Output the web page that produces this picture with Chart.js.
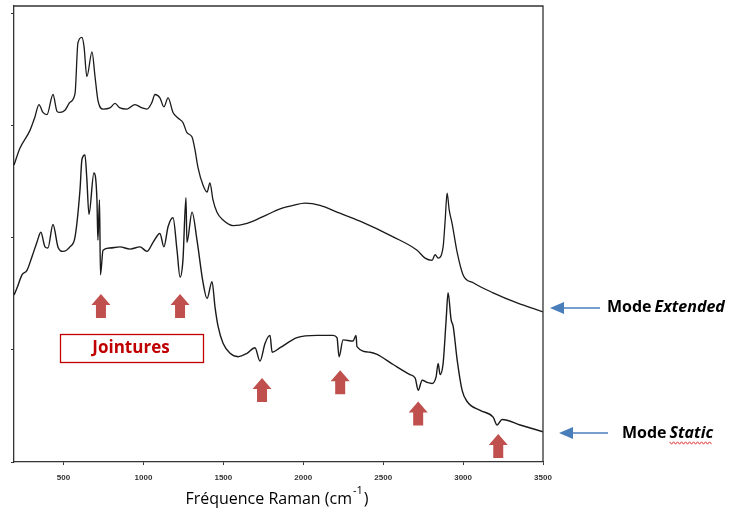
<!DOCTYPE html>
<html lang="fr">
<head>
<meta charset="utf-8">
<title>Spectre Raman - modes Extended / Static</title>
<script src="https://cdn.jsdelivr.net/npm/chart.js@4.4.1/dist/chart.umd.min.js"></script>
<style>
  html, body { margin: 0; padding: 0; background: #fff; }
</style>
</head>
<body>
<canvas id="grafico" width="736" height="514"></canvas>
<script>
// Courbe du haut : mode Extended (nombre d'onde en cm-1, intensité relative)
const extendedCm = [190, 227, 290, 321, 346, 371, 396, 434, 459, 477, 509, 540, 572, 590, 615, 628, 646,
  678, 697, 715, 747, 790, 822, 853, 897, 947, 991, 1022, 1053, 1072, 1103, 1128, 1154, 1185, 1216,
  1247, 1272, 1304, 1322, 1341, 1373, 1398, 1416, 1435, 1460, 1498, 1561, 1648, 1748, 1855, 1936,
  2011, 2105, 2211, 2355, 2562, 2712, 2762, 2806, 2825, 2844, 2875, 2888, 2900, 2913, 2931, 2963,
  3000, 3063, 3188, 3338, 3500];
const extendedInt = [2.65, 2.80, 2.96, 3.08, 3.19, 3.12, 3.10, 3.28, 3.13, 3.12, 3.14, 3.21, 3.29, 3.74, 3.79, 3.71, 3.44,
  3.66, 3.44, 3.23, 3.15, 3.16, 3.20, 3.16, 3.15, 3.19, 3.16, 3.15, 3.21, 3.28, 3.25, 3.17, 3.25, 3.12, 3.07,
  3.03, 2.94, 2.90, 2.79, 2.63, 2.47, 2.41, 2.49, 2.34, 2.23, 2.16, 2.11, 2.13, 2.19, 2.26, 2.29,
  2.31, 2.29, 2.23, 2.15, 2.01, 1.89, 1.82, 1.80, 1.85, 1.82, 1.92, 2.16, 2.40, 2.25, 2.13, 1.87,
  1.67, 1.60, 1.51, 1.42, 1.34];

// Courbe du bas : mode Static
const staticCm = [190, 208, 240, 271, 302, 333, 358, 384, 402, 434, 465, 496, 540, 572, 603, 615, 634, 646,
  659, 690, 709, 715, 725, 731, 747, 790, 853, 916, 978, 1022, 1060, 1103, 1128, 1154, 1185, 1210, 1229,
  1247, 1266, 1272, 1304, 1335, 1373, 1398, 1429, 1448, 1467, 1498, 1542, 1592, 1648, 1698, 1729, 1761,
  1792, 1805, 1855, 1961, 2086, 2186, 2211, 2224, 2249, 2311, 2330, 2336, 2418, 2462, 2562, 2668, 2700,
  2719, 2744, 2775, 2806, 2831, 2844, 2856, 2875, 2894, 2906, 2925, 2938, 2963, 2994, 3025, 3107, 3188,
  3213, 3244, 3357, 3500];
const staticInt = [1.49, 1.55, 1.67, 1.71, 1.83, 1.96, 2.05, 1.92, 1.91, 2.12, 1.92, 1.88, 1.92, 2.01, 2.43, 2.70, 2.74, 2.52,
  2.21, 2.58, 2.34, 1.98, 2.34, 1.67, 1.89, 1.91, 1.92, 1.90, 1.92, 1.88, 1.96, 2.04, 1.92, 2.10, 2.18, 1.89, 1.65,
  1.80, 2.36, 1.96, 2.23, 1.98, 1.60, 1.46, 1.61, 1.38, 1.21, 1.06, 0.97, 0.94, 0.97, 1.02, 0.90, 1.06,
  1.13, 0.98, 1.02, 1.11, 1.13, 1.13, 1.11, 0.94, 1.09, 1.08, 1.13, 1.03, 0.98, 0.96, 0.87, 0.78, 0.75,
  0.64, 0.73, 0.71, 0.70, 0.76, 0.88, 0.78, 0.88, 1.27, 1.51, 1.27, 1.21, 0.91, 0.64, 0.54, 0.46, 0.40,
  0.33, 0.38, 0.33, 0.27];

// Graduations
const xTicks = [500, 1000, 1500, 2000, 2500, 3000, 3500];
const yTicks = [0, 1, 2, 3, 4];

// Flèches rouges (jointures) : position en cm-1 et haut de la flèche
const jointuresCm = [734, 1229, 1742, 2231, 2719, 3220];
const jointuresTop = [1.50, 1.50, 0.75, 0.82, 0.54, 0.25];

const rouge = '#C0504D';
const bleu = '#4A7EBB';

function paires(xs, ys) {
  return xs.map((x, i) => ({ x: x, y: ys[i] }));
}

// Flèche rouge vers le haut
function flecheHaut(ctx, cx, top) {
  ctx.fillStyle = rouge;
  ctx.beginPath();
  ctx.moveTo(cx, top);
  ctx.lineTo(cx + 9.5, top + 11);
  ctx.lineTo(cx + 5, top + 11);
  ctx.lineTo(cx + 5, top + 24);
  ctx.lineTo(cx - 5, top + 24);
  ctx.lineTo(cx - 5, top + 11);
  ctx.lineTo(cx - 9.5, top + 11);
  ctx.closePath();
  ctx.fill();
}

// Flèche bleue vers la gauche
function flecheGauche(ctx, tipX, tailX, y) {
  ctx.strokeStyle = bleu;
  ctx.lineWidth = 1.5;
  ctx.beginPath();
  ctx.moveTo(tailX, y);
  ctx.lineTo(tipX + 10, y);
  ctx.stroke();
  ctx.fillStyle = bleu;
  ctx.beginPath();
  ctx.moveTo(tipX, y);
  ctx.lineTo(tipX + 14, y - 6);
  ctx.lineTo(tipX + 14, y + 6);
  ctx.closePath();
  ctx.fill();
}

// "Mode" en gras + mot en gras italique, renvoie la position du mot
function etiquette(ctx, x, y, mot) {
  ctx.fillStyle = '#000';
  ctx.textBaseline = 'middle';
  ctx.textAlign = 'left';
  ctx.font = 'bold 16px "Open Sans"';
  ctx.fillText('Mode', x, y);
  const x2 = x + ctx.measureText('Mode').width + 3;
  ctx.font = 'italic bold 16px "Open Sans"';
  ctx.fillText(mot, x2, y);
  return { x: x2, w: ctx.measureText(mot).width };
}

const annotations = {
  id: 'annotations',
  afterDraw(chart) {
    const ctx = chart.ctx;
    const a = chart.chartArea;
    const sx = chart.scales.x;
    const sy = chart.scales.y;
    ctx.save();

    // cadre haut et droite
    ctx.strokeStyle = '#333';
    ctx.lineWidth = 1.3;
    ctx.beginPath();
    ctx.moveTo(a.left, a.top);
    ctx.lineTo(a.right, a.top);
    ctx.lineTo(a.right, a.bottom);
    ctx.stroke();

    // flèches des jointures
    jointuresCm.forEach((cm, i) => {
      flecheHaut(ctx, sx.getPixelForValue(cm), sy.getPixelForValue(jointuresTop[i]));
    });

    // encadré "Jointures"
    ctx.strokeStyle = '#C00000';
    ctx.lineWidth = 1.3;
    ctx.strokeRect(60.5, 334.5, 143, 28);
    ctx.fillStyle = '#C00000';
    ctx.font = 'bold 17px "Open Sans"';
    ctx.textAlign = 'center';
    ctx.textBaseline = 'middle';
    ctx.fillText('Jointures', 131, 348);

    // étiquettes à droite
    flecheGauche(ctx, a.right + 7, a.right + 57, 308);
    etiquette(ctx, 607, 307, 'Extended');
    flecheGauche(ctx, a.right + 16, a.right + 65, 433);
    const s = etiquette(ctx, 622, 433, 'Static');

    // soulignement ondulé sous "Static"
    ctx.strokeStyle = '#E03030';
    ctx.lineWidth = 1;
    ctx.beginPath();
    for (let x = s.x; x <= s.x + s.w; x += 2) {
      const yy = 443 + ((Math.round((x - s.x) / 2) % 2) ? 1.2 : -1.2);
      if (x === s.x) ctx.moveTo(x, yy); else ctx.lineTo(x, yy);
    }
    ctx.stroke();

    // titre de l'axe x avec exposant
    ctx.fillStyle = '#000';
    ctx.textAlign = 'left';
    ctx.textBaseline = 'alphabetic';
    ctx.font = '16px "Open Sans"';
    const t1 = 'Fréquence Raman (cm';
    const w1 = ctx.measureText(t1).width;
    ctx.font = '11px "Open Sans"';
    const w2 = ctx.measureText('-1').width;
    ctx.font = '16px "Open Sans"';
    const w3 = ctx.measureText(')').width;
    let x0 = 277 - (w1 + w2 + 2 + w3) / 2;
    ctx.fillText(t1, x0, 504);
    ctx.font = '11px "Open Sans"';
    ctx.fillText('-1', x0 + w1 + 1, 494);
    ctx.font = '16px "Open Sans"';
    ctx.fillText(')', x0 + w1 + w2 + 2, 504);

    ctx.restore();
  }
};

const ctx = document.getElementById('grafico').getContext('2d');

new Chart(ctx, {
  type: 'line',
  data: {
    datasets: [{
      label: 'Mode Extended',
      data: paires(extendedCm, extendedInt),
      borderColor: '#1a1a1a',
      borderWidth: 1.3,
      pointRadius: 0,
      cubicInterpolationMode: 'monotone',
      fill: false
    }, {
      label: 'Mode Static',
      data: paires(staticCm, staticInt),
      borderColor: '#1a1a1a',
      borderWidth: 1.4,
      pointRadius: 0,
      cubicInterpolationMode: 'monotone',
      fill: false
    }]
  },
  options: {
    responsive: false,
    animation: false,
    layout: { padding: { top: 6, right: 193, left: 0, bottom: 0 } },
    plugins: {
      legend: { display: false },
      tooltip: { enabled: false }
    },
    scales: {
      x: {
        type: 'linear',
        min: 190,
        max: 3500,
        afterBuildTicks: (scale) => { scale.ticks = xTicks.map(v => ({ value: v })); },
        afterFit: (scale) => { scale.height = 52; },
        grid: { drawOnChartArea: false, tickLength: 3, color: '#333', lineWidth: 1 },
        border: { color: '#333', width: 1.3 },
        ticks: {
          padding: 8,
          maxRotation: 0,
          color: '#333',
          font: { family: 'Liberation Sans', size: 8, weight: 'bold' },
          callback: (v) => String(v)
        }
      },
      y: {
        min: 0,
        max: 4.07,
        afterBuildTicks: (scale) => { scale.ticks = yTicks.map(v => ({ value: v })); },
        afterFit: (scale) => { scale.width = 14; },
        grid: { drawOnChartArea: false, tickLength: 3, color: '#333', lineWidth: 1 },
        border: { color: '#333', width: 1.3 },
        ticks: { display: false }
      }
    }
  },
  plugins: [annotations]
});
</script>
</body>
</html>
